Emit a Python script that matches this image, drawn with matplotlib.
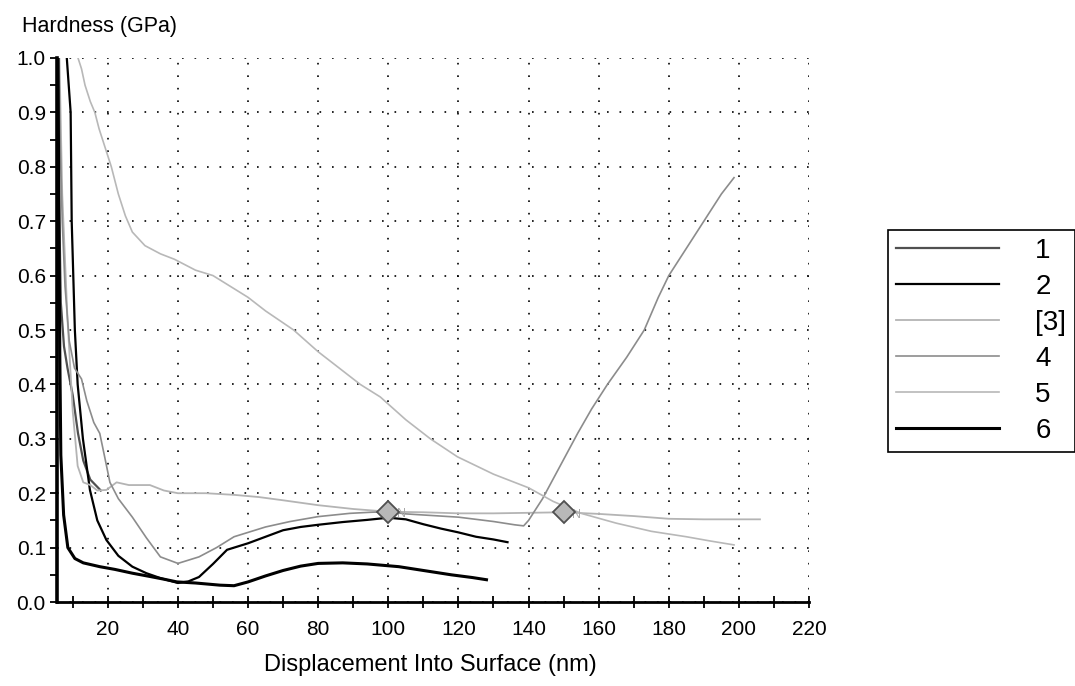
import matplotlib
matplotlib.use('Agg')
import matplotlib.pyplot as plt
from matplotlib.ticker import MultipleLocator, FormatStrFormatter

plt.rcParams['font.family'] = ['Liberation Sans', 'DejaVu Sans']

# Curves: displacement (nm), hardness (GPa)
labels = ['1', '2', '[3]', '4', '5', '6']

x_c1 = [5.6, 5.9, 6.2, 6.6, 7.5, 8.5, 10.0, 11.5, 13.0, 15.0, 18.0]
h_c1 = [1.0, 0.85, 0.70, 0.55, 0.47, 0.43, 0.38, 0.31, 0.26, 0.225, 0.205]

x_c2 = [8.3, 9.4, 9.7, 10.6, 11.4, 12.9, 14.9, 17.0, 19.6, 23.0, 27.0, 31.0, 35.0,
        40.0, 43.0, 46.0, 50.0, 54.0, 60.0, 65.0, 70.0, 75.0, 80.0, 87.0, 94.0,
        100.0, 105.0, 110.0, 115.0, 120.0, 125.0, 130.0, 134.0]
h_c2 = [1.0, 0.9, 0.7, 0.5, 0.4, 0.3, 0.206, 0.15, 0.114, 0.085, 0.065, 0.053, 0.044,
        0.035, 0.038, 0.046, 0.07, 0.096, 0.108, 0.12, 0.132, 0.138, 0.142, 0.147, 0.151,
        0.155, 0.152, 0.143, 0.135, 0.128, 0.12, 0.115, 0.11]

x_c3 = [6.2, 7.0, 8.5, 10.0, 11.4, 13.0, 15.0, 17.0, 19.6, 22.5, 26.0, 32.0, 36.0,
        40.0, 48.0, 56.0, 63.0, 70.0, 80.0, 90.0, 100.0, 110.0, 120.0, 130.0, 140.0,
        150.0, 160.0, 170.0, 180.0, 190.0, 200.0, 206.0]
h_c3 = [1.0, 0.75, 0.52, 0.35, 0.25, 0.22, 0.215, 0.205, 0.206, 0.22, 0.215, 0.215, 0.205,
        0.2, 0.2, 0.197, 0.193, 0.187, 0.178, 0.171, 0.166, 0.165, 0.163, 0.163, 0.164,
        0.165, 0.162, 0.158, 0.153, 0.152, 0.152, 0.152]

x_c4 = [6.0, 6.4, 7.0, 7.8, 9.0, 10.5, 12.5, 14.0, 16.0, 17.7, 19.0, 20.6, 23.0, 27.0,
        31.0, 35.0, 40.0, 46.0, 51.0, 56.0, 65.0, 72.0, 80.0, 89.0, 95.0, 100.0, 105.0,
        110.0, 120.0, 130.0, 136.0, 138.6, 140.0, 142.0, 144.0, 149.0, 154.0, 158.0,
        162.5, 168.0, 173.0, 177.0, 180.0, 185.0, 190.0, 195.0, 198.6]
h_c4 = [1.0, 0.85, 0.7, 0.58, 0.48, 0.43, 0.41, 0.37, 0.33, 0.31, 0.27, 0.22, 0.19, 0.156,
        0.118, 0.083, 0.071, 0.083, 0.1, 0.12, 0.138, 0.148, 0.157, 0.163, 0.165, 0.166, 0.162,
        0.16, 0.156, 0.148, 0.142, 0.14, 0.15, 0.17, 0.19, 0.25, 0.31, 0.355,
        0.40, 0.45, 0.50, 0.56, 0.60, 0.65, 0.70, 0.75, 0.78]

x_c5 = [11.5, 12.5, 13.5, 15.0, 16.3, 17.5, 19.0, 21.0, 23.0, 25.0, 27.0, 30.6, 35.0, 39.0,
        45.0, 50.0, 55.0, 60.0, 65.0, 73.0, 80.0, 86.0, 92.0, 97.7, 105.0, 112.0, 119.7,
        130.0, 140.0, 147.0, 155.0, 165.0, 175.0, 185.0, 192.0, 198.6]
h_c5 = [1.0, 0.98, 0.95, 0.92, 0.9, 0.87, 0.84, 0.8, 0.75, 0.71, 0.68, 0.655, 0.64, 0.63,
        0.61, 0.6, 0.58, 0.56, 0.535, 0.5, 0.46, 0.43, 0.4, 0.377, 0.335, 0.3, 0.267,
        0.235, 0.21, 0.185, 0.163, 0.145, 0.13, 0.12, 0.112, 0.105]

x_c6 = [5.8, 6.0, 6.3, 6.6, 7.4, 8.6, 10.6, 13.0, 17.7, 22.0, 27.0, 32.0, 36.0, 39.7,
        45.0, 52.0, 56.0, 60.0, 65.0, 70.0, 75.0, 80.0, 87.0, 94.0, 103.0, 110.0,
        118.0, 124.0, 128.0]
h_c6 = [1.0, 0.75, 0.46, 0.27, 0.16, 0.10, 0.08, 0.072, 0.065, 0.06, 0.053, 0.047, 0.042, 0.037,
        0.035, 0.031, 0.03, 0.037, 0.048, 0.058, 0.066, 0.071, 0.072, 0.07, 0.065, 0.058,
        0.05, 0.045, 0.041]

# calculation range markers
x_marks = [100, 150]
h_marks = [0.166, 0.165]

fig = plt.figure(figsize=(10.75, 6.86), dpi=100)
ax = fig.add_axes([0.053, 0.1224, 0.6996, 0.7931])

# series styles (grey-scale scan look)
styles = [('#505050', 1.6), ('black', 1.6), ('#b4b4b4', 1.3),
          ('#8c8c8c', 1.2), ('#b8b8b8', 1.2), ('black', 2.2)]
series = [(x_c1, h_c1), (x_c2, h_c2), (x_c3, h_c3),
          (x_c4, h_c4), (x_c5, h_c5), (x_c6, h_c6)]

handles = []
for (xs, hs), (col, lw), lab in zip(series, styles, labels):
    ln, = ax.plot(xs, hs, color=col, linewidth=lw, label=lab, zorder=3)
    handles.append(ln)

ax.plot(x_marks, h_marks, linestyle='none', marker='D', markersize=11,
        markerfacecolor='#b8b8b8', markeredgecolor='#505050', markeredgewidth=1.3, zorder=5)
for xm, hm in zip(x_marks, h_marks):
    ax.text(xm + 2.5, hm - 0.005, 'N', color='#a8a8a8', fontsize=9, va='center', ha='left', zorder=4)

ax.set_xlim(5.5, 220)
ax.set_ylim(0, 1.0)

ax.xaxis.set_major_locator(MultipleLocator(20))
ax.xaxis.set_minor_locator(MultipleLocator(10))
ax.yaxis.set_major_locator(MultipleLocator(0.1))
ax.yaxis.set_minor_locator(MultipleLocator(0.05))
ax.yaxis.set_major_formatter(FormatStrFormatter('%.1f'))

ax.tick_params(axis='x', which='both', direction='inout', length=8, width=1.3, labelsize=15, pad=9)
ax.tick_params(axis='y', which='both', direction='out', length=5, width=1.3, labelsize=15, pad=3)

ax.grid(True, which='major', color='black', linestyle=(0, (1, 6.5)), linewidth=1.2)
ax.set_axisbelow(True)

for side in ['top', 'right']:
    ax.spines[side].set_visible(False)
ax.spines['left'].set_linewidth(2.6)
ax.spines['bottom'].set_linewidth(2.0)

fig.text(0.02, 0.962, 'Hardness (GPa)', fontsize=15.5, ha='left', va='center')
fig.text(0.40, 0.03, 'Displacement Into Surface (nm)', fontsize=17, ha='center', va='center')

leg = fig.legend(handles=handles, labels=labels, loc='upper left',
                 bbox_to_anchor=(0.826, 0.665), fontsize=20, handlelength=3.7,
                 handletextpad=1.3, labelspacing=0.36, borderpad=0.3,
                 borderaxespad=0, fancybox=False, framealpha=1)
leg.get_frame().set_edgecolor('black')
leg.get_frame().set_linewidth(1.2)

fig.savefig('out.png', dpi=100)
